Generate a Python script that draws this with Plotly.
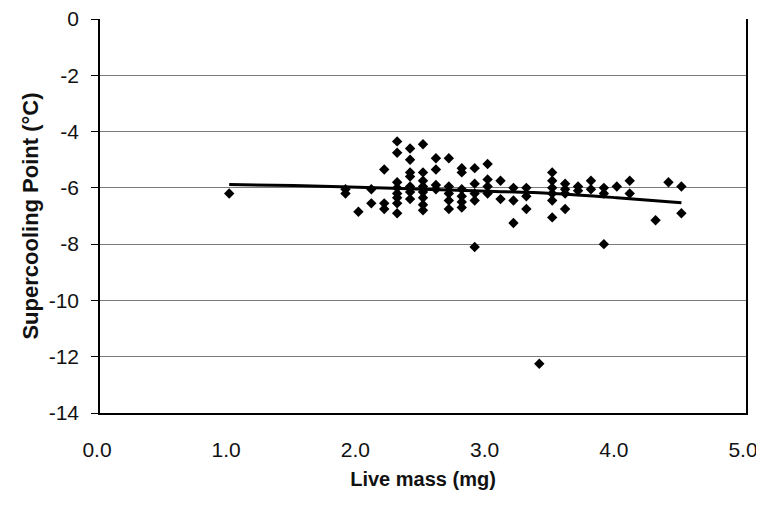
import plotly.graph_objects as go

# Scatter data: live mass (mg) and supercooling point (°C)
mass = [
    1.0,
    1.9, 1.9,
    2.0,
    2.1, 2.1,
    2.2, 2.2, 2.2,
    2.3, 2.3, 2.3, 2.3, 2.3, 2.3, 2.3, 2.3,
    2.4, 2.4, 2.4, 2.4, 2.4, 2.4, 2.4,
    2.5, 2.5, 2.5, 2.5, 2.5, 2.5, 2.5, 2.5,
    2.6, 2.6, 2.6, 2.6,
    2.7, 2.7, 2.7, 2.7, 2.7,
    2.8, 2.8, 2.8, 2.8, 2.8, 2.8,
    2.9, 2.9, 2.9, 2.9, 2.9,
    3.0, 3.0, 3.0, 3.0,
    3.1, 3.1,
    3.2, 3.2, 3.2,
    3.3, 3.3, 3.3,
    3.4,
    3.5, 3.5, 3.5, 3.5, 3.5, 3.5,
    3.6, 3.6, 3.6, 3.6,
    3.7, 3.7,
    3.8, 3.8,
    3.9, 3.9, 3.9,
    4.0,
    4.1, 4.1,
    4.3,
    4.4,
    4.5, 4.5,
]
scp = [
    -6.2,
    -6.05, -6.2,
    -6.85,
    -6.05, -6.55,
    -5.35, -6.55, -6.75,
    -4.35, -4.75, -5.8, -6.0, -6.2, -6.35, -6.55, -6.9,
    -4.6, -5.0, -5.45, -5.6, -5.95, -6.15, -6.4,
    -4.45, -5.45, -5.75, -5.95, -6.15, -6.35, -6.6, -6.8,
    -4.95, -5.35, -5.9, -6.05,
    -4.95, -5.95, -6.2, -6.45, -6.75,
    -5.3, -5.45, -6.05, -6.3, -6.5, -6.7,
    -5.3, -5.85, -6.2, -6.45, -8.1,
    -5.15, -5.7, -5.95, -6.2,
    -5.75, -6.4,
    -6.0, -6.45, -7.25,
    -6.0, -6.3, -6.75,
    -12.25,
    -5.45, -5.75, -6.0, -6.2, -6.45, -7.05,
    -5.85, -6.05, -6.2, -6.75,
    -5.95, -6.1,
    -5.75, -6.05,
    -6.0, -6.2, -8.0,
    -5.95,
    -5.75, -6.2,
    -7.15,
    -5.8,
    -5.95, -6.9,
]

# Trend line
trend_x = [1.0, 1.5, 2.0, 2.5, 3.0, 3.5, 4.0, 4.5]
trend_y = [-5.88, -5.92, -5.98, -6.05, -6.12, -6.2, -6.35, -6.53]

x_ticks = [0, 1, 2, 3, 4, 5]
x_tick_labels = ["0.0", "1.0", "2.0", "3.0", "4.0", "5.0"]
y_ticks = [0, -2, -4, -6, -8, -10, -12, -14]
y_tick_labels = ["0", "-2", "-4", "-6", "-8", "-10", "-12", "-14"]

font_family = "Liberation Sans, Arial, sans-serif"

fig = go.Figure()
fig.add_trace(go.Scatter(
    x=mass, y=scp, mode="markers",
    marker=dict(symbol="diamond", size=8, color="black", line=dict(width=0)),
    showlegend=False, hoverinfo="x+y",
))
fig.add_trace(go.Scatter(
    x=trend_x, y=trend_y, mode="lines", line_shape="spline",
    line=dict(color="black", width=3),
    showlegend=False, hoverinfo="skip",
))

fig.update_layout(
    width=764, height=508,
    margin=dict(l=92, r=26, t=11, b=103),
    paper_bgcolor="white", plot_bgcolor="white",
    font=dict(family=font_family, color="#111111", size=21),
)
fig.update_xaxes(
    range=[0, 5], tickvals=x_ticks, ticktext=x_tick_labels,
    showgrid=False, zeroline=False, automargin="bottom",
    showline=True, linecolor="black", linewidth=1.5, mirror=False,
    ticks="outside", ticklen=17, tickcolor="rgba(0,0,0,0)",
    ticklabelshift=-3, ticklabeloverflow="allow",
    tickfont=dict(size=21),
    title=dict(text="<b>Live mass (mg)</b>", font=dict(size=20), standoff=12),
)
fig.update_yaxes(
    range=[-14, 0], tickvals=y_ticks, ticktext=y_tick_labels,
    showgrid=True, gridcolor="#7a7a7a", gridwidth=1, zeroline=False,
    automargin="left",
    showline=True, linecolor="black", linewidth=1.5, mirror=True,
    ticks="outside", ticklen=7, tickcolor="black",
    ticklabelstandoff=8, ticklabeloverflow="allow",
    tickfont=dict(size=21),
    title=dict(text="<b>Supercooling Point (°C)</b>", font=dict(size=22), standoff=4),
)

fig.write_html("out.html")
